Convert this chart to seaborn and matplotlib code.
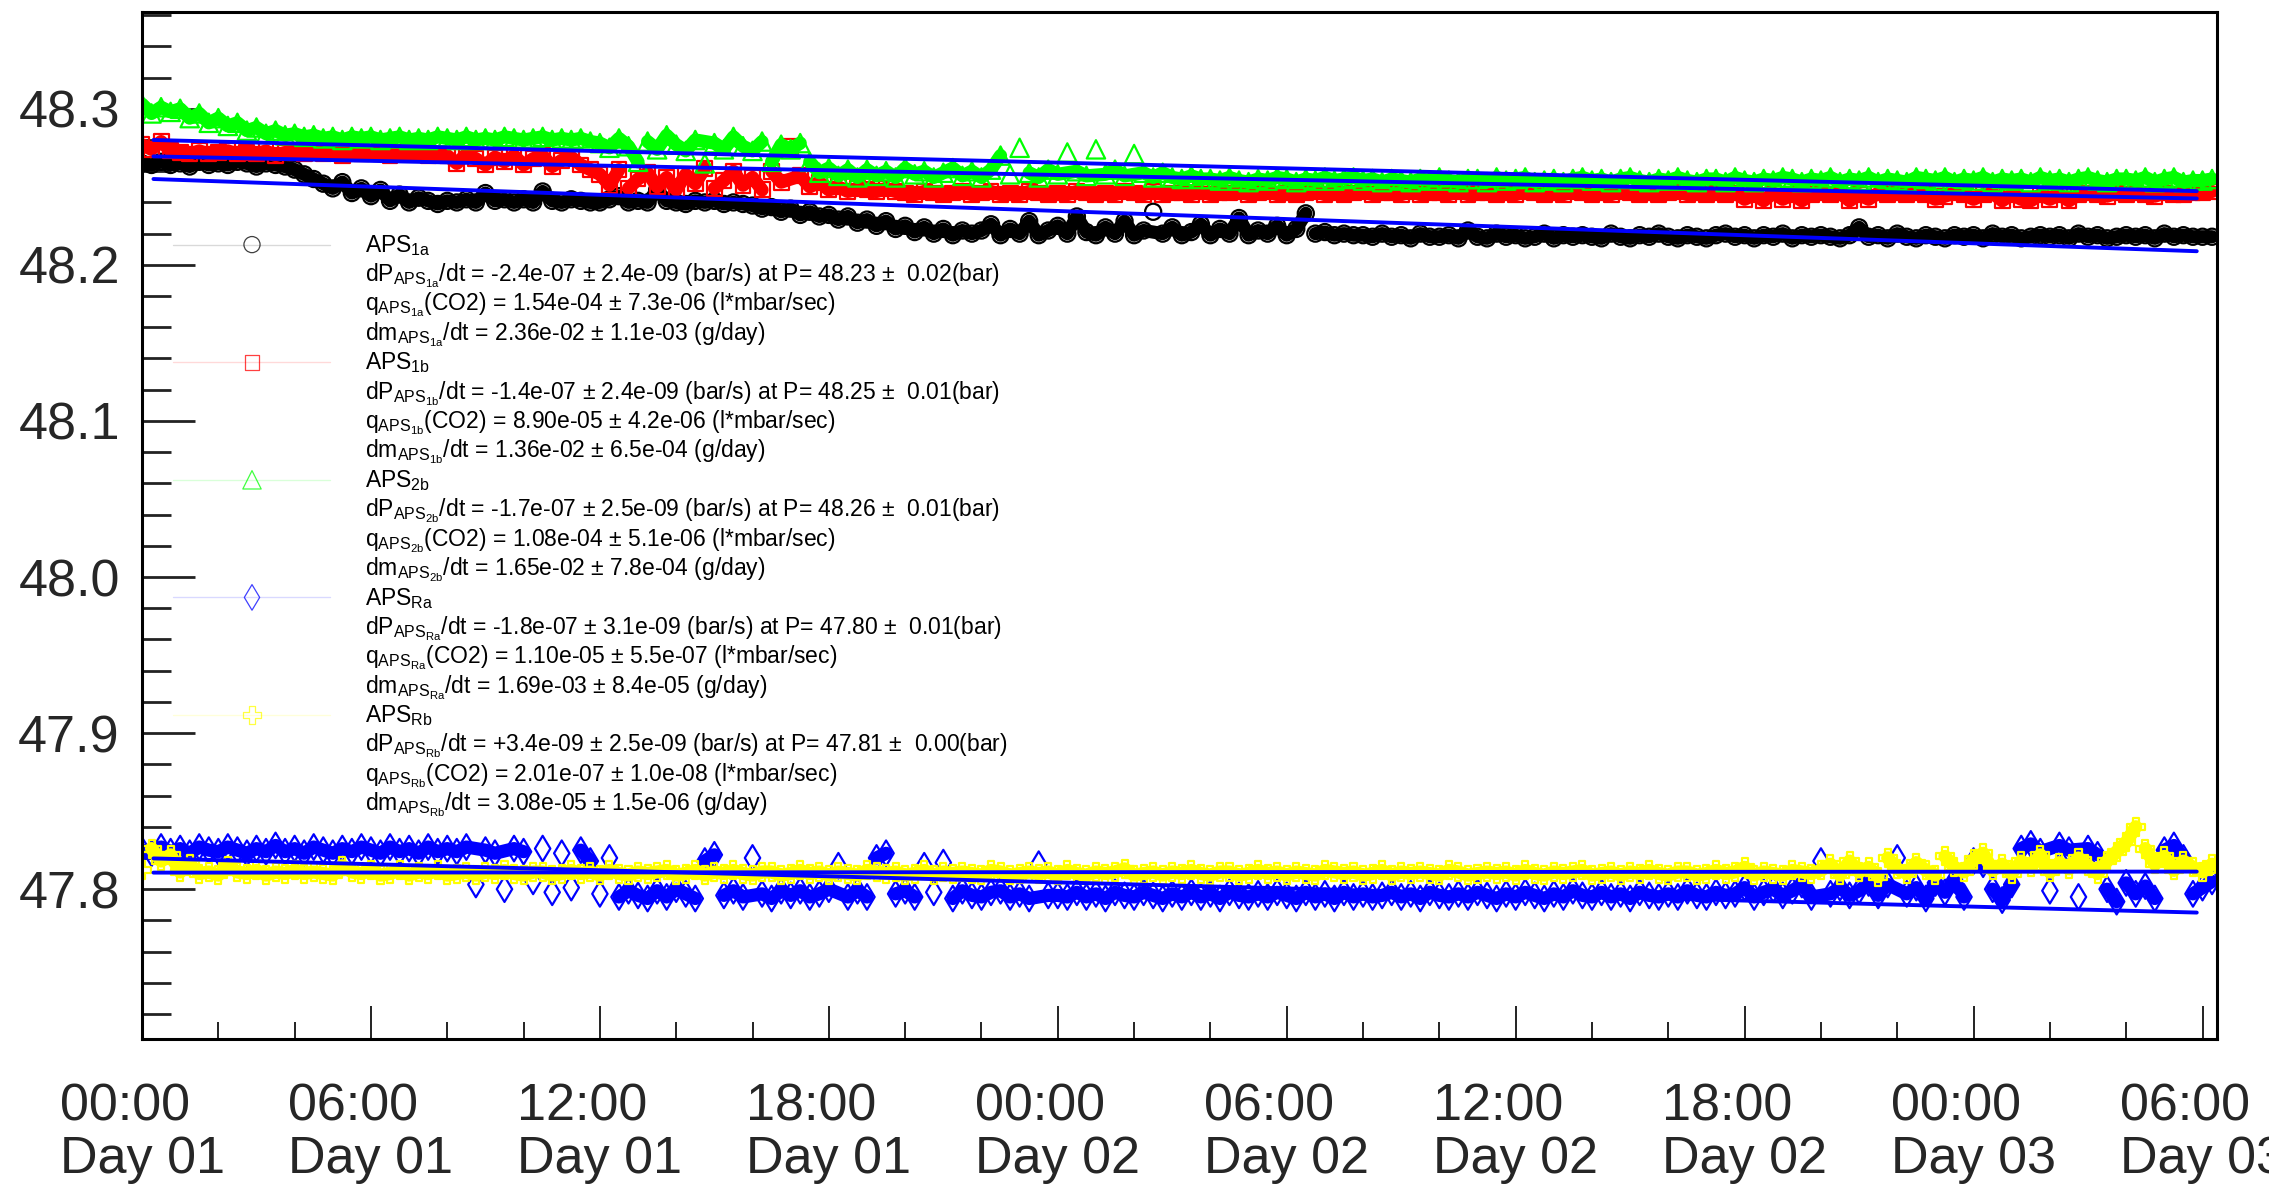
import numpy as np
import matplotlib
matplotlib.use("Agg")
import matplotlib.pyplot as plt
from matplotlib.ticker import MultipleLocator, FixedLocator, FormatStrFormatter
import seaborn as sns

# ---- pressure readings (bar), one every 15 minutes from 00:00 Day 01 ----
hours = np.arange(0, 54.26, 0.25)

aps_1a = [
    48.265, 48.264, 48.266, 48.264, 48.265, 48.263, 48.266, 48.264,
    48.265, 48.264, 48.266, 48.265, 48.263, 48.265, 48.264, 48.263,
    48.261, 48.258, 48.255, 48.252, 48.249, 48.253, 48.246, 48.249,
    48.244, 48.248, 48.241, 48.245, 48.240, 48.243, 48.241, 48.239,
    48.241, 48.240, 48.242, 48.240, 48.246, 48.241, 48.242, 48.240,
    48.242, 48.240, 48.247, 48.241, 48.240, 48.242, 48.241, 48.240,
    48.240, 48.242, 48.244, 48.240, 48.241, 48.240, 48.248, 48.241,
    48.240, 48.239, 48.241, 48.240, 48.241, 48.239, 48.240, 48.239,
    48.238, 48.236, 48.237, 48.234, 48.236, 48.232, 48.234, 48.231,
    48.232, 48.229, 48.231, 48.227, 48.229, 48.225, 48.228, 48.223,
    48.225, 48.221, 48.224, 48.220, 48.223, 48.219, 48.222, 48.220,
    48.222, 48.226, 48.219, 48.223, 48.220, 48.228, 48.219, 48.222,
    48.225, 48.220, 48.231, 48.221, 48.219, 48.224, 48.220, 48.228,
    48.219, 48.222, 48.234, 48.220, 48.224, 48.219, 48.221, 48.226,
    48.219, 48.223, 48.220, 48.230, 48.219, 48.222, 48.220, 48.225,
    48.219, 48.223, 48.233, 48.220, 48.221, 48.219, 48.220, 48.219,
    48.219, 48.218, 48.220, 48.218, 48.219, 48.217, 48.220, 48.218,
    48.218, 48.219, 48.217, 48.222, 48.218, 48.217, 48.220, 48.218,
    48.219, 48.217, 48.218, 48.220, 48.217, 48.219, 48.218, 48.219,
    48.218, 48.217, 48.220, 48.218, 48.217, 48.219, 48.218, 48.220,
    48.218, 48.217, 48.219, 48.218, 48.217, 48.219, 48.220, 48.218,
    48.219, 48.217, 48.219, 48.218, 48.220, 48.217, 48.219, 48.218,
    48.219, 48.218, 48.217, 48.219, 48.224, 48.218, 48.219, 48.217,
    48.220, 48.218, 48.217, 48.219, 48.218, 48.217, 48.219, 48.218,
    48.219, 48.217, 48.220, 48.218, 48.219, 48.217, 48.218, 48.219,
    48.218, 48.219, 48.217, 48.220, 48.218, 48.219, 48.217, 48.218,
    48.219, 48.218, 48.219, 48.217, 48.220, 48.218, 48.219, 48.218,
    48.218, 48.218,
]

aps_1b = [
    48.277, 48.274, 48.279, 48.273, 48.272, 48.271, 48.273, 48.271,
    48.272, 48.273, 48.271, 48.272, 48.271, 48.273, 48.270, 48.272,
    48.272, 48.271, 48.273, 48.271, 48.272, 48.270, 48.272, 48.271,
    48.272, 48.271, 48.270, 48.272, 48.271, 48.272, 48.270, 48.271,
    48.270, 48.265, 48.271, 48.268, 48.264, 48.269, 48.266, 48.270,
    48.264, 48.268, 48.270, 48.263, 48.267, 48.269, 48.264, 48.261,
    48.258, 48.251, 48.261, 48.249, 48.255, 48.259, 48.250, 48.256,
    48.248, 48.258, 48.252, 48.262, 48.249, 48.254, 48.260, 48.251,
    48.256, 48.248, 48.260, 48.253, 48.276, 48.257, 48.250, 48.253,
    48.248, 48.250, 48.247, 48.249, 48.248, 48.247, 48.249, 48.247,
    48.246, 48.245, 48.247, 48.246, 48.245, 48.246, 48.247, 48.245,
    48.246, 48.247, 48.245, 48.246, 48.245, 48.247, 48.246, 48.245,
    48.246, 48.245, 48.247, 48.246, 48.245, 48.246, 48.245, 48.247,
    48.246, 48.245, 48.247, 48.245, 48.246, 48.246, 48.245, 48.247,
    48.245, 48.246, 48.246, 48.247, 48.245, 48.246, 48.247, 48.245,
    48.246, 48.245, 48.246, 48.247, 48.245, 48.246, 48.245, 48.246,
    48.247, 48.245, 48.246, 48.246, 48.245, 48.247, 48.245, 48.246,
    48.246, 48.245, 48.247, 48.245, 48.246, 48.246, 48.245, 48.246,
    48.245, 48.247, 48.246, 48.245, 48.246, 48.245, 48.247, 48.246,
    48.245, 48.246, 48.245, 48.247, 48.246, 48.245, 48.246, 48.245,
    48.246, 48.247, 48.245, 48.246, 48.245, 48.246, 48.245, 48.246,
    48.242, 48.245, 48.241, 48.246, 48.242, 48.245, 48.241, 48.245,
    48.246, 48.245, 48.246, 48.241, 48.245, 48.242, 48.246, 48.245,
    48.246, 48.245, 48.246, 48.245, 48.242, 48.244, 48.246, 48.245,
    48.242, 48.245, 48.246, 48.241, 48.245, 48.242, 48.241, 48.245,
    48.242, 48.245, 48.241, 48.245, 48.246, 48.245, 48.244, 48.246,
    48.245, 48.246, 48.245, 48.244, 48.246, 48.245, 48.245, 48.246,
    48.246, 48.247,
]

aps_2b = [
    48.303, 48.297, 48.301, 48.298, 48.300, 48.294, 48.297, 48.291,
    48.294, 48.289, 48.291, 48.286, 48.288, 48.284, 48.286, 48.283,
    48.284, 48.282, 48.283, 48.281, 48.282, 48.280, 48.282, 48.281,
    48.282, 48.280, 48.281, 48.282, 48.280, 48.281, 48.280, 48.282,
    48.281, 48.280, 48.282, 48.280, 48.281, 48.280, 48.282, 48.281,
    48.280, 48.281, 48.282, 48.280, 48.281, 48.280, 48.281, 48.279,
    48.278, 48.275, 48.281, 48.276, 48.266, 48.279, 48.274, 48.283,
    48.277, 48.273, 48.280, 48.265, 48.278, 48.274, 48.282, 48.276,
    48.273, 48.279, 48.266, 48.277, 48.274, 48.278, 48.266, 48.259,
    48.262, 48.257, 48.261, 48.256, 48.261, 48.257, 48.260, 48.256,
    48.262, 48.258, 48.260, 48.256, 48.259, 48.262, 48.257, 48.260,
    48.256, 48.261, 48.270, 48.258, 48.275, 48.259, 48.256, 48.261,
    48.258, 48.272, 48.260, 48.257, 48.274, 48.258, 48.261, 48.257,
    48.271, 48.259, 48.256, 48.259, 48.256, 48.255, 48.257, 48.255,
    48.255, 48.254, 48.256, 48.254, 48.253, 48.255, 48.254, 48.256,
    48.255, 48.253, 48.255, 48.254, 48.256, 48.254, 48.255, 48.256,
    48.254, 48.255, 48.253, 48.255, 48.254, 48.253, 48.255, 48.254,
    48.256, 48.254, 48.253, 48.255, 48.255, 48.253, 48.256, 48.254,
    48.255, 48.256, 48.253, 48.254, 48.255, 48.253, 48.255, 48.256,
    48.254, 48.255, 48.253, 48.255, 48.256, 48.254, 48.253, 48.255,
    48.254, 48.256, 48.254, 48.253, 48.255, 48.255, 48.253, 48.256,
    48.254, 48.253, 48.255, 48.254, 48.256, 48.255, 48.253, 48.255,
    48.254, 48.256, 48.253, 48.255, 48.254, 48.256, 48.253, 48.255,
    48.254, 48.253, 48.256, 48.255, 48.254, 48.256, 48.253, 48.255,
    48.254, 48.256, 48.253, 48.255, 48.254, 48.255, 48.253, 48.256,
    48.254, 48.255, 48.253, 48.255, 48.256, 48.254, 48.253, 48.255,
    48.255, 48.254, 48.256, 48.253, 48.255, 48.256, 48.253, 48.254,
    48.254, 48.255,
]

aps_ra = [
    47.825, 47.823, 47.827, 47.824, 47.826, 47.823, 47.827, 47.825,
    47.824, 47.827, 47.825, 47.823, 47.826, 47.824, 47.828, 47.824,
    47.826, 47.823, 47.827, 47.825, 47.823, 47.826, 47.824, 47.827,
    47.825, 47.823, 47.827, 47.824, 47.826, 47.823, 47.827, 47.824,
    47.826, 47.824, 47.827, 47.803, 47.825, 47.823, 47.800, 47.826,
    47.824, 47.805, 47.826, 47.798, 47.823, 47.801, 47.825, 47.818,
    47.797, 47.820, 47.795, 47.799, 47.796, 47.794, 47.799, 47.795,
    47.800, 47.797, 47.794, 47.818, 47.822, 47.796, 47.799, 47.795,
    47.820, 47.797, 47.794, 47.799, 47.796, 47.799, 47.795, 47.797,
    47.800, 47.815, 47.795, 47.799, 47.795, 47.820, 47.823, 47.797,
    47.799, 47.795, 47.815, 47.798, 47.817, 47.794, 47.799, 47.796,
    47.795, 47.798, 47.799, 47.795, 47.797, 47.794, 47.816, 47.796,
    47.796, 47.795, 47.798, 47.795, 47.797, 47.794, 47.798, 47.796,
    47.795, 47.798, 47.796, 47.794, 47.797, 47.795, 47.798, 47.795,
    47.797, 47.794, 47.798, 47.796, 47.795, 47.797, 47.795, 47.798,
    47.796, 47.794, 47.798, 47.795, 47.797, 47.794, 47.798, 47.795,
    47.797, 47.795, 47.796, 47.798, 47.795, 47.797, 47.794, 47.798,
    47.796, 47.795, 47.797, 47.795, 47.798, 47.796, 47.794, 47.797,
    47.795, 47.798, 47.796, 47.794, 47.797, 47.795, 47.799, 47.796,
    47.795, 47.798, 47.795, 47.797, 47.794, 47.798, 47.796, 47.795,
    47.797, 47.795, 47.799, 47.796, 47.795, 47.798, 47.796, 47.797,
    47.801, 47.795, 47.798, 47.800, 47.796, 47.799, 47.803, 47.795,
    47.818, 47.797, 47.801, 47.796,
    47.799, 47.804, 47.796, 47.803, 47.820, 47.797, 47.801, 47.794,
    47.804, 47.798, 47.806, 47.795, 47.818, 47.816, 47.800, 47.793,
    47.803, 47.826, 47.829, 47.824, 47.799, 47.828, 47.825, 47.795,
    47.826, 47.822, 47.800, 47.792, 47.804, 47.797, 47.802, 47.794,
    47.825, 47.828, 47.820, 47.797, 47.801, 47.805,
]

aps_rb = [
    47.812, 47.826, 47.818, 47.822, 47.811, 47.816,
    47.810, 47.811, 47.809, 47.815, 47.811, 47.810, 47.812, 47.809, 47.811, 47.810,
    47.812, 47.810, 47.811, 47.810, 47.809, 47.815, 47.811, 47.810, 47.812, 47.809,
    47.810, 47.812, 47.809, 47.811, 47.810, 47.812, 47.809, 47.810, 47.811, 47.809,
    47.811, 47.810, 47.812, 47.810, 47.809, 47.811, 47.811, 47.809, 47.810, 47.812,
    47.810, 47.811, 47.809, 47.812, 47.810, 47.809, 47.811, 47.810, 47.811, 47.812,
    47.809, 47.810, 47.812, 47.809, 47.811, 47.810, 47.812, 47.810, 47.809, 47.811,
    47.811, 47.809, 47.810, 47.812, 47.810, 47.811, 47.809, 47.811, 47.810, 47.809,
    47.812, 47.811, 47.810, 47.811, 47.809, 47.810, 47.812, 47.809, 47.811, 47.810,
    47.811, 47.810, 47.809, 47.812, 47.811, 47.809, 47.810, 47.811, 47.810, 47.811,
    47.809, 47.812, 47.810, 47.809, 47.811, 47.810, 47.811, 47.813, 47.809, 47.810,
    47.811, 47.809, 47.811, 47.810, 47.812, 47.810, 47.809, 47.811, 47.811, 47.809,
    47.810, 47.812, 47.810, 47.811, 47.809, 47.811, 47.810, 47.809, 47.812, 47.811,
    47.810, 47.811, 47.809, 47.810, 47.812, 47.809, 47.811, 47.810, 47.811, 47.810,
    47.809, 47.812, 47.811, 47.809, 47.810, 47.811, 47.810, 47.811, 47.809, 47.812,
    47.810, 47.809, 47.811, 47.810, 47.811, 47.812, 47.809, 47.810, 47.811, 47.809,
    47.811, 47.810, 47.812, 47.810, 47.809, 47.811, 47.811, 47.809, 47.810, 47.812,
    47.810, 47.811, 47.814, 47.809, 47.811, 47.810, 47.809, 47.812, 47.811, 47.810,
    47.812, 47.816, 47.809, 47.818, 47.811, 47.814, 47.808, 47.820,
    47.813, 47.810, 47.817, 47.812, 47.809, 47.821, 47.814, 47.811,
    47.819, 47.823, 47.812, 47.816, 47.810, 47.818, 47.814, 47.822,
    47.811, 47.817, 47.813, 47.820, 47.815, 47.810, 47.818, 47.824,
    47.830, 47.840, 47.826, 47.816, 47.821, 47.812, 47.818, 47.814,
    47.811, 47.816,
]

sensor_ids = ["1a", "1b", "2b", "Ra", "Rb"]
series_colors = ["#000000", "#ff0000", "#00ff00", "#0000ff", "#ffff00"]
series_markers = ["o", "s", "^", "d", "P"]
marker_area = [135, 115, 175, 170, 170]

# linear-fit summary per sensor
fit_slope = [-2.4e-07, -1.4e-07, -1.7e-07, -1.8e-07, 3.4e-09]      # bar/s
fit_slope_err = [2.4e-09, 2.4e-09, 2.5e-09, 3.1e-09, 2.5e-09]
mean_p = [48.23, 48.25, 48.26, 47.80, 47.81]                       # bar
mean_p_err = [0.02, 0.01, 0.01, 0.01, 0.00]
leak_q = [1.54e-04, 8.90e-05, 1.08e-04, 1.10e-05, 2.01e-07]        # l*mbar/sec
leak_q_err = [7.3e-06, 4.2e-06, 5.1e-06, 5.5e-07, 1.0e-08]
mass_rate = [2.36e-02, 1.36e-02, 1.65e-02, 1.69e-03, 3.08e-05]     # g/day
mass_rate_err = [1.1e-03, 6.5e-04, 7.8e-04, 8.4e-05, 1.5e-06]
fit_window = [0.3, 53.85]                                           # hours
fit_p_start = [48.255, 48.2695, 48.280, 47.8197, 47.8106]          # bar

x_ticks = [0, 6, 12, 18, 24, 30, 36, 42, 48, 54]
x_tick_labels = ["00:00\nDay 01", "06:00\nDay 01", "12:00\nDay 01", "18:00\nDay 01",
                 "00:00\nDay 02", "06:00\nDay 02", "12:00\nDay 02", "18:00\nDay 02",
                 "00:00\nDay 03", "06:00\nDay 03"]

# ---- style ----
sns.set_style("ticks")
plt.rcParams["font.family"] = ["Liberation Sans", "DejaVu Sans"]
plt.rcParams["mathtext.fontset"] = "custom"
plt.rcParams["mathtext.rm"] = "Liberation Sans"
plt.rcParams["mathtext.it"] = "Liberation Sans:italic"
plt.rcParams["mathtext.bf"] = "Liberation Sans:bold"

W, H = 2269, 1186
L, R, T, B = 142, 2217, 12, 1039          # frame edges in pixels
fig = plt.figure(figsize=(W / 100, H / 100), dpi=100)
fig.patch.set_facecolor("white")
ax = fig.add_axes([L / W, 1 - B / H, (R - L) / W, (B - T) / H])


def dense_track(vals, max_jump=0.012):
    """Join consecutive readings into a trace; lone excursions stay as bare markers."""
    n = len(vals)
    keep = []
    for i in range(n):
        far_prev = i > 0 and abs(vals[i] - vals[i - 1]) > max_jump
        far_next = i < n - 1 and abs(vals[i] - vals[i + 1]) > max_jump
        keep.append(not (far_prev and far_next))
    xs, ys, last = [], [], None
    for i in range(n):
        if not keep[i]:
            continue
        if last is not None and (abs(vals[i] - vals[last]) > max_jump or i - last > 2):
            xs.append(np.nan)
            ys.append(np.nan)
        xs.append(hours[i])
        ys.append(vals[i])
        last = i
    return xs, ys


all_series = [aps_1a, aps_1b, aps_2b, aps_ra, aps_rb]
for vals, col, mk, area in zip(all_series, series_colors, series_markers, marker_area):
    tx, ty = dense_track(vals)
    ax.plot(tx, ty, color=col, linewidth=9.5, solid_capstyle="round",
            solid_joinstyle="round", zorder=2)
    sns.scatterplot(x=hours, y=vals, marker=mk, s=area, facecolor="none",
                    edgecolor=col, linewidth=1.6, ax=ax, zorder=2)

for p0, slope in zip(fit_p_start, fit_slope):
    p1 = p0 + slope * 3600 * (fit_window[1] - fit_window[0])
    sns.lineplot(x=fit_window, y=[p0, p1], color="#0000ff", linewidth=2.8,
                 ax=ax, zorder=4)

ax.set_xlim(0, 54.38)
ax.set_ylim(47.704, 48.362)
ax.set_xlabel("")
ax.set_ylabel("")
ax.xaxis.set_major_locator(FixedLocator(x_ticks))
ax.set_xticklabels(x_tick_labels)
ax.xaxis.set_minor_locator(MultipleLocator(2))
ax.yaxis.set_major_locator(MultipleLocator(0.1))
ax.yaxis.set_major_formatter(FormatStrFormatter("%.1f"))
ax.yaxis.set_minor_locator(MultipleLocator(0.02))

ax.tick_params(axis="both", which="both", direction="in", color="#222222",
               top=False, right=False)
ax.tick_params(axis="x", which="major", length=24, width=1.4, pad=31, labelsize=37.5)
ax.tick_params(axis="x", which="minor", length=12, width=1.4)
ax.tick_params(axis="y", which="major", length=38, width=2.0, pad=16, labelsize=37.5)
ax.tick_params(axis="y", which="minor", length=21, width=2.0)
for lbl in ax.get_xticklabels():
    lbl.set_multialignment("left")
    lbl.set_linespacing(1.1)
for sp in ax.spines.values():
    sp.set_linewidth(2.2)
    sp.set_color("black")


# ---- legend block: key marker + four text lines per sensor ----
def to_axes(px, py):
    return (px - L) / (R - L), (B - py) / (B - T)


line_step = 29.4
text_x, _ = to_axes(365, 0)
key_x, _ = to_axes(252, 0)
key_x0, _ = to_axes(173, 0)
key_x1, _ = to_axes(330, 0)
for k, sid in enumerate(sensor_ids):
    sub = r"$_{\mathrm{APS}_{\mathrm{%s}}}$" % sid
    lines = [
        r"APS$_{\mathrm{%s}}$" % sid,
        f"dP{sub}/dt = {fit_slope[k]:+.1e} \u00b1 {fit_slope_err[k]:.1e} (bar/s) "
        f"at P= {mean_p[k]:.2f} \u00b1 {mean_p_err[k]:5.2f}(bar)",
        f"q{sub}(CO2) = {leak_q[k]:.2e} \u00b1 {leak_q_err[k]:.1e} (l*mbar/sec)",
        f"dm{sub}/dt = {mass_rate[k]:.2e} \u00b1 {mass_rate_err[k]:.1e} (g/day)",
    ]
    for j, txt in enumerate(lines):
        _, ty = to_axes(0, 252 + line_step * (4 * k + j))
        ax.text(text_x, ty, txt, transform=ax.transAxes, fontsize=16.5,
                ha="left", va="baseline", color="black", zorder=6)
    _, ky = to_axes(0, 244.6 + line_step * 4 * k)
    ax.plot([key_x0, key_x1], [ky, ky], transform=ax.transAxes,
            color=series_colors[k], alpha=0.15, linewidth=1.0, clip_on=False)
    ax.scatter([key_x], [ky], transform=ax.transAxes, marker=series_markers[k],
               s=marker_area[k], facecolor="none", edgecolor=series_colors[k],
               linewidth=0.9, alpha=0.75, clip_on=False, zorder=6)

fig.savefig("out.png", dpi=100)
